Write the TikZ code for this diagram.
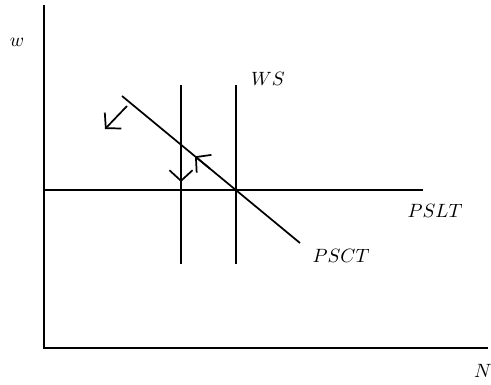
\documentclass[tikz,border=0pt]{standalone}
\usepackage{amsmath}
\usetikzlibrary{arrows.meta, positioning, calc}
\tikzset{
  axis/.style={line width=0.9pt, color=black},
  curve/.style={line width=0.9pt, color=black},
  adjarrow/.style={line width=0.9pt, -{Straight Barb[length=5.5pt, width=12pt, line width=0.9pt]}},
  lbl/.style={font=\normalsize, inner sep=1pt},
}

\begin{document}
\begin{tikzpicture}[x=0.52pt, y=-0.52pt]
  \useasboundingbox (0,0) rectangle (491,384);

  % axes
  \coordinate (origin) at (44,348);
  \coordinate (wtop) at (44,5);
  \coordinate (nend) at (488,348);
  \draw[axis] (wtop) -- (origin) -- (nend);
  \node[lbl] (w) at (17,42) {$w$};
  \node[lbl] (n) at (483,371) {$N$};

  % long-run price-setting line
  \coordinate (psltL) at (44,190);
  \coordinate (psltR) at (423,190);
  \draw[curve] (psltL) -- (psltR);
  \node[lbl] (pslt) at (435,211) {$PSLT$};

  % wage-setting lines
  \coordinate (wsAtop) at (181,85);
  \coordinate (wsAbot) at (181,264);
  \coordinate (wsBtop) at (236,85);
  \coordinate (wsBbot) at (236,264);
  \draw[curve] (wsAtop) -- (wsAbot);
  \draw[curve] (wsBtop) -- (wsBbot);
  \node[lbl] (ws) at (268,79) {$WS$};

  % short-run price-setting curve
  \coordinate (psctL) at (122,96);
  \coordinate (psctR) at (300,243);
  \draw[curve] (psctL) -- (psctR);
  \node[lbl] (psct) at (341,256) {$PSCT$};

  % adjustment arrows
  \coordinate (a1s) at (127,106);
  \coordinate (a1e) at (105,129);
  \coordinate (a2s) at (181,150);
  \coordinate (a2e) at (181,182);
  \coordinate (a3s) at (210,168.7);
  \coordinate (a3e) at (195,156.3);
  \draw[adjarrow] (a1s) -- (a1e);
  \draw[adjarrow] (a2s) -- (a2e);
  \draw[adjarrow] (a3s) -- (a3e);

\end{tikzpicture}
\end{document}
